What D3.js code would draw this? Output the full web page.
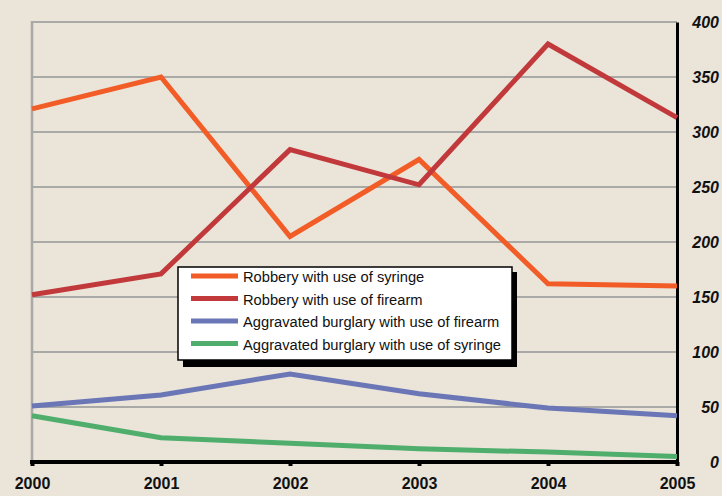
<!DOCTYPE html>
<html><head><meta charset="utf-8">
<script src="https://cdn.jsdelivr.net/npm/d3@7"></script>
<style>
html,body{margin:0;padding:0;background:#eae4d9;}
svg{display:block;}
</style></head>
<body>
<script>
const years = [2000, 2001, 2002, 2003, 2004, 2005];
const yTicks = [0, 50, 100, 150, 200, 250, 300, 350, 400];
const seriesNames = [
  "Robbery with use of syringe",
  "Robbery with use of firearm",
  "Aggravated burglary with use of firearm",
  "Aggravated burglary with use of syringe"
];
const robberySyringe = [321, 350, 205, 275, 162, 160];
const robberyFirearm = [152, 171, 284, 252, 380, 313];
const burglaryFirearm = [51, 61, 80, 62, 49, 42];
const burglarySyringe = [42, 22, 17, 12, 9, 5];
const seriesColors = ["#f25c27", "#c1393a", "#6a76b5", "#4fae6c"];

const allSeries = [robberySyringe, robberyFirearm, burglaryFirearm, burglarySyringe];

const W = 722, H = 496;
const svg = d3.select("body").append("svg").attr("width", W).attr("height", H);

const x = d3.scaleLinear().domain([2000, 2005]).range([32, 677]);
const y = d3.scaleLinear().domain([0, 400]).range([462, 22]);

// gridlines
svg.append("g").selectAll("line").data(yTicks.filter(d => d > 0)).join("line")
  .attr("x1", x(2000)).attr("x2", x(2005))
  .attr("y1", d => y(d)).attr("y2", d => y(d))
  .attr("stroke", "#a9a9a7").attr("stroke-width", 2);

// left gray axis
svg.append("line").attr("x1", x(2000)).attr("x2", x(2000))
  .attr("y1", y(400) - 1).attr("y2", y(0))
  .attr("stroke", "#a9a9a7").attr("stroke-width", 2.5);

// right axis (black)
const yAxis = d3.axisRight(y).tickValues(yTicks).tickSize(0).tickPadding(14)
  .tickFormat(d3.format("d"));
const gy = svg.append("g").attr("transform", `translate(${x(2005)},0)`).call(yAxis);
gy.select(".domain").attr("stroke", "#000").attr("stroke-width", 3);
gy.selectAll("text")
  .attr("font-family", "'Liberation Sans', Arial, sans-serif")
  .attr("font-size", 16).attr("font-weight", "bold").attr("font-style", "italic")
  .attr("fill", "#111").attr("text-anchor", "end").attr("x", 719 - x(2005));

// lines
const line = d3.line().x((d, i) => x(years[i])).y(d => y(d));
svg.append("g").selectAll("path").data(allSeries).join("path")
  .attr("d", d => line(d))
  .attr("fill", "none")
  .attr("stroke", (d, i) => seriesColors[i])
  .attr("stroke-width", 5)
  .attr("stroke-linejoin", "miter");

// bottom axis
const xAxis = d3.axisBottom(x).tickValues(years).tickSize(4).tickPadding(12)
  .tickFormat(d3.format("d"));
const gx = svg.append("g").attr("transform", `translate(0,${y(0)})`).call(xAxis);
gx.select(".domain").attr("stroke", "#000").attr("stroke-width", 4)
  .attr("d", `M${x(2000) - 2},0H${x(2005) + 2}`);
gx.selectAll(".tick line").attr("stroke", "#000").attr("stroke-width", 4);
gx.selectAll("text")
  .attr("font-family", "'Liberation Sans', Arial, sans-serif")
  .attr("font-size", 16).attr("font-weight", "bold").attr("fill", "#111");

// legend
const lg = svg.append("g");
lg.append("rect").attr("x", 183).attr("y", 272).attr("width", 334).attr("height", 95).attr("fill", "#000");
lg.append("rect").attr("x", 178).attr("y", 267).attr("width", 334).attr("height", 93)
  .attr("fill", "#fff").attr("stroke", "#000").attr("stroke-width", 1.5);
const items = lg.selectAll("g.item").data(seriesNames).join("g").attr("class", "item")
  .attr("transform", (d, i) => `translate(0,${277 + i * 22.5})`);
items.append("line").attr("x1", 191).attr("x2", 238).attr("y1", -1).attr("y2", -1)
  .attr("stroke", (d, i) => seriesColors[i]).attr("stroke-width", 5);
items.append("text").attr("x", 243).attr("y", 0).attr("dy", "0.35em")
  .attr("font-family", "'Liberation Sans', Arial, sans-serif")
  .attr("font-size", 14.7).attr("fill", "#111").text(d => d);
</script>
</body></html>
